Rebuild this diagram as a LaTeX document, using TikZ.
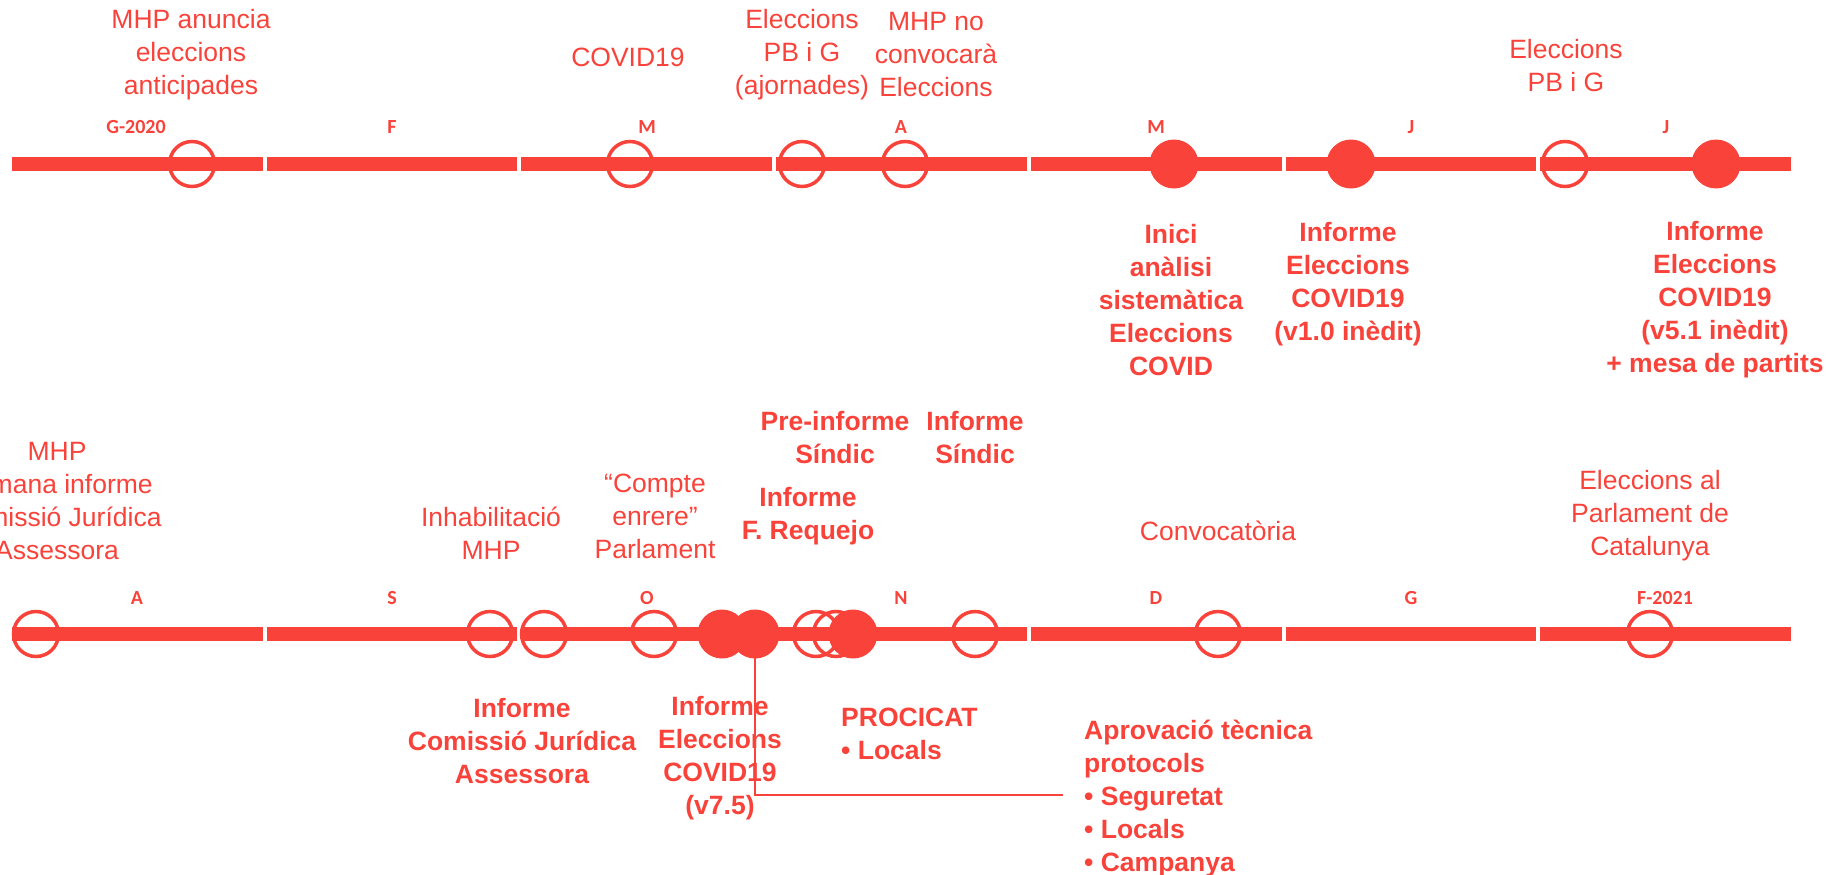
\documentclass[tikz,border=0pt]{standalone}
\usepackage{fontspec}
\setmainfont{Liberation Sans}
\newfontfamily\monthfont{Carlito}
\definecolor{tl}{RGB}{249,66,58}
\begin{document}
\begin{tikzpicture}[x=1pt,y=-1pt,
 seg/.style={draw=tl,line width=14pt},
 oc/.style={circle,draw=tl,line width=3.5pt,minimum size=45pt,inner sep=0},
 fc/.style={circle,fill=tl,minimum size=49pt,inner sep=0},
 lab/.style={text=tl,align=center,font=\fontsize{26.5}{33}\selectfont,inner sep=0},
 blab/.style={text=tl,align=center,font=\fontsize{26.5}{33}\selectfont\bfseries,inner sep=0},
 llab/.style={text=tl,align=left,font=\fontsize{26.5}{33}\selectfont\bfseries,inner sep=0,anchor=west},
 mon/.style={text=tl,font=\monthfont\bfseries\fontsize{20}{22}\selectfont,inner sep=0},
 conn/.style={draw=tl,line width=1.8pt}]
\useasboundingbox (0,0) rectangle (1837,875);
% bars
\foreach \i in {0,...,6} {
  \draw[seg] ({12+254.7*\i},164) -- ({8+254.7*(\i+1)},164);
  \draw[seg] ({12+254.7*\i},634) -- ({8+254.7*(\i+1)},634);
}
% month labels top
\node[mon] (mt1) at (136,127) {G-2020};
\node[mon] (mt2) at (392,127) {F};
\node[mon] (mt3) at (647,127) {M};
\node[mon] (mt4) at (901,127) {A};
\node[mon] (mt5) at (1156,127) {M};
\node[mon] (mt6) at (1411,127) {J};
\node[mon] (mt7) at (1666,127) {J};
% month labels bottom
\node[mon] (mb1) at (137,598) {A};
\node[mon] (mb2) at (392,598) {S};
\node[mon] (mb3) at (647,598) {O};
\node[mon] (mb4) at (901,598) {N};
\node[mon] (mb5) at (1156,598) {D};
\node[mon] (mb6) at (1411,598) {G};
\node[mon] (mb7) at (1665,598) {F-2021};
% top circles
\node[oc] (t1) at (192,164) {};
\node[oc] (t2) at (630,164) {};
\node[oc] (t3) at (802,164) {};
\node[oc] (t4) at (905,164) {};
\node[fc] (t5) at (1174,164) {};
\node[fc] (t6) at (1351,164) {};
\node[oc] (t7) at (1565,164) {};
\node[fc] (t8) at (1716,164) {};
% bottom circles
\node[oc] (b1) at (36,634) {};
\node[oc] (b2) at (490,634) {};
\node[oc] (b3) at (544,634) {};
\node[oc] (b4) at (654,634) {};
\node[oc] (b7) at (816,634) {};
\node[oc] (b8) at (836,634) {};
\node[fc] (b5) at (722,634) {};
\node[fc] (b6) at (755,634) {};
\node[fc] (b9) at (853,634) {};
\node[oc] (b10) at (975,634) {};
\node[oc] (b11) at (1218,634) {};
\node[oc] (b12) at (1650,634) {};
% top labels
\node[lab] (l1) at (191,55) {MHP anuncia\\eleccions\\anticipades};
\node[lab] (l2) at (628,57) {COVID19};
\node[lab] (l3) at (802,55) {Eleccions\\PB i G\\(ajornades)};
\node[lab] (l4) at (936,55) {MHP no\\convocarà\\Eleccions};
\node[lab] (l5) at (1566,66) {Eleccions\\PB i G};
\node[blab] (l6) at (1171,300) {Inici\\anàlisi\\sistemàtica\\Eleccions\\COVID};
\node[blab] (l7) at (1348,284) {Informe\\Eleccions\\COVID19\\(v1.0 inèdit)};
\node[blab] (l8) at (1715,300) {Informe\\Eleccions\\COVID19\\(v5.1 inèdit)\\+ mesa de partits};
% bottom labels above
\node[lab] (m1) at (57,501) {MHP\\demana informe\\Comissió Jurídica\\Assessora};
\node[lab] (m2) at (491,533) {Inhabilitació\\MHP};
\node[lab] (m3) at (655,516) {“Compte\\enrere”\\Parlament};
\node[blab] (m4) at (835,438) {Pre-informe\\Síndic};
\node[blab] (m5) at (975,438) {Informe\\Síndic};
\node[blab] (m6) at (808,516) {Informe\\F. Requejo};
\node[lab] (m7) at (1218,531) {Convocatòria};
\node[lab] (m8) at (1650,516) {Eleccions al\\Parlament de\\Catalunya};
% bottom labels below
\node[blab] (n1) at (522,741) {Informe\\Comissió Jurídica\\Assessora};
\node[blab] (n2) at (720,758) {Informe\\Eleccions\\COVID19\\(v7.5)};
\node[llab] (n3) at (841,734) {PROCICAT\\• Locals};
\node[llab] (n4) at (1084,799) {Aprovació tècnica\\protocols\\• Seguretat\\• Locals\\• Campanya};
% connector
\coordinate (cend) at (1063,795);
\draw[conn] (b6.center) |- (cend);
\end{tikzpicture}
\end{document}
